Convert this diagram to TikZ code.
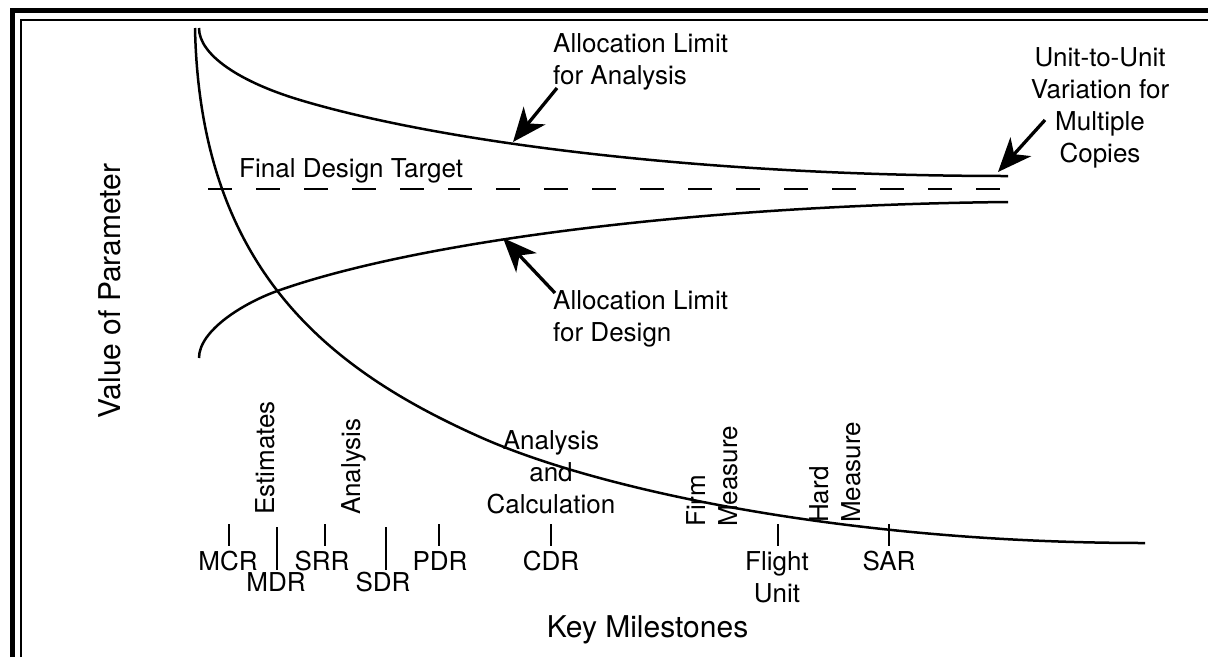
\documentclass[tikz,border=0pt]{standalone}
\usepackage{fontspec}
\setmainfont{TeX Gyre Heros}
\usetikzlibrary{arrows.meta}
\begin{document}
\begin{tikzpicture}[x=1pt,y=-1pt,
  curve/.style={line width=2.5pt},
  target/.style={line width=2pt, dash pattern=on 24pt off 24pt},
  tick/.style={line width=2pt},
  callout/.style={line width=3.3pt, -{Stealth[length=34pt,width=28pt,inset=10pt]}},
  lbl/.style={inner sep=0pt, font=\fontsize{26}{32}\selectfont},
  axislbl/.style={inner sep=0pt, font=\fontsize{30}{36}\selectfont},
  frameouter/.style={line width=4.5pt},
  frameinner/.style={line width=2pt},
]
\useasboundingbox (0,0) rectangle (1208,657);

% double frame along the top and left edges
\draw[frameouter] (12.5,657) -- (12.5,10.5) -- (1208,10.5);
\draw[frameinner] (20.7,657) -- (20.7,19.5) -- (1208,19.5);

% falling estimate curve
\draw[curve] (195,28) .. controls (200,270) and (330,370) .. (480,437)
  .. controls (600,490.6) and (850,543) .. (1145,543);
% upper allocation limit (analysis)
\draw[curve] (199,28) .. controls (199,55) and (240,82) .. (300,100)
  .. controls (440,142) and (700,176) .. (1008,176);
% lower allocation limit (design)
\draw[curve] (199,358) .. controls (199,330) and (245,302) .. (280,290)
  .. controls (420,241) and (700,205) .. (1008,202);
% final design target
\draw[target] (208,189) -- (1000,189);

% labels with callout arrows (multi-line nodes are placed by their last baseline)
\node[lbl, anchor=base west, align=left] (analim) at (553,84) {Allocation Limit\\for Analysis};
\node[lbl, anchor=base west, align=left] (deslim) at (553,341) {Allocation Limit\\for Design};
\node[lbl, anchor=base, align=center] (unit) at (1100,162) {Unit-to-Unit\\Variation for\\Multiple\\Copies};
\node[lbl, anchor=base west] (final) at (239,177) {Final Design Target};

\coordinate (analimtail) at (557,88);
\coordinate (analimtip) at (513,142);
\coordinate (deslimtail) at (555,293);
\coordinate (deslimtip) at (503,238);
\coordinate (unittail) at (1045,120);
\coordinate (unittip) at (998,172);
\draw[callout] (analimtail) -- (analimtip);
\draw[callout] (deslimtail) -- (deslimtip);
\draw[callout] (unittail) -- (unittip);

% axis titles
\node[axislbl, rotate=90, anchor=base] (vop) at (120,291) {Value of Parameter};
\node[axislbl, anchor=base] (km) at (647.5,637) {Key Milestones};

% milestones
\node[lbl, anchor=base] (mcr) at (228,570) {MCR};
\node[lbl, anchor=base] (mdr) at (276,591) {MDR};
\node[lbl, anchor=base] (srr) at (322,570) {SRR};
\node[lbl, anchor=base] (sdr) at (383,591) {SDR};
\node[lbl, anchor=base] (pdr) at (440,570) {PDR};
\node[lbl, anchor=base] (cdr) at (551,570) {CDR};
\node[lbl, anchor=base, align=center] (flight) at (777,602) {Flight\\Unit};
\node[lbl, anchor=base] (sar) at (889,570) {SAR};

\foreach \tx/\ttop/\tbot in {229/524/546, 277/527/570, 325/524/546, 386/527/570,
    439/524/546, 551/524/546, 778/524/546, 889/524/546}
  \draw[tick] (\tx,\ttop) -- (\tx,\tbot);

% fidelity of the estimate at each stage
\node[lbl, rotate=90, anchor=base west] (est) at (274.5,515) {Estimates};
\node[lbl, rotate=90, anchor=base west] (ana) at (360,515) {Analysis};
\node[lbl, anchor=base, align=center] (anc) at (551,513) {Analysis\\and\\Calculation};
\node[lbl, rotate=90, anchor=base west, align=left] (firm) at (737,527) {Firm\\Measure};
\node[lbl, rotate=90, anchor=base west, align=left] (hard) at (860,523) {Hard\\Measure};
\end{tikzpicture}
\end{document}
